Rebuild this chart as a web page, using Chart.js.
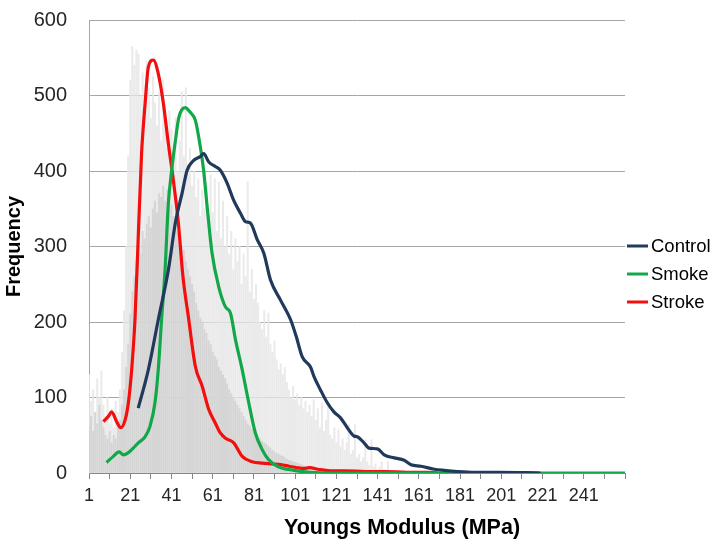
<!DOCTYPE html>
<html>
<head>
<meta charset="utf-8">
<script src="https://cdn.jsdelivr.net/npm/chart.js@4.4.0/dist/chart.umd.min.js"></script>
<style>
  html, body { margin: 0; padding: 0; background: #fff; }
  #wrap { width: 722px; height: 551px; }
</style>
</head>
<body>
<div id="wrap"><canvas id="chart" width="722" height="551"></canvas></div>
<script>
// tick positions (every 10) and the labelled ones (every 20)
const xTickValues = [1, 11, 21, 31, 41, 51, 61, 71, 81, 91, 101, 111, 121, 131, 141, 151, 161, 171, 181, 191, 201, 211, 221, 231, 241, 251, 261];
const xTickLabels = [1, 21, 41, 61, 81, 101, 121, 141, 161, 181, 201, 221, 241];
const xTitle = "Youngs Modulus (MPa)";
const yTitle = "Frequency";

// fitted curves
const controlX = [24.9, 29.8, 34.6, 39.5, 43, 46.1, 48.6, 51.8, 55, 56.6, 59.1, 62.3, 64.7, 68, 71.2, 74.5, 76.9, 79.3, 82.6, 85.8, 89, 93.9, 98.8, 101.5, 104.4, 108.5, 110.1, 113.3, 116.6, 119.8, 123, 126.3, 129.5, 131.1, 134.4, 136.8, 140.9, 144.2, 149, 153.9, 157.2, 162, 168.5, 173.3, 179.8, 188, 200, 220];
const controlY = [86, 137, 203, 269, 333, 370, 401, 414, 419, 423, 412, 406, 401, 384, 361, 344, 333, 331, 309, 291, 256, 229, 203, 181, 154, 140, 128, 110, 93, 81, 73, 60, 49, 48, 40, 33, 32, 24, 20, 17, 11, 9, 5, 3.5, 2, 1, 1, 0];

const smokeX = [9.5, 12.8, 15.6, 17.7, 20.1, 22.5, 24.9, 28.2, 30.6, 33, 34.6, 36.2, 37.9, 39.5, 41.1, 42.9, 44.5, 46, 47.7, 50, 52.6, 55, 56.6, 58.3, 60.7, 63.9, 67.2, 69.6, 72.1, 75.3, 78.5, 81.7, 85, 88, 92.3, 100.3, 108, 120, 261];
const smokeY = [14, 22, 28, 24, 27, 33, 40, 48, 62, 93, 137, 203, 269, 357, 401, 440, 470, 481, 484, 478, 467, 432, 401, 353, 291, 247, 220, 212, 176, 137, 93, 53, 31, 18, 9, 3.5, 1, 0, 0];

const strokeX = [8, 10.4, 12, 14.4, 16.4, 18.5, 20.1, 21.7, 23.3, 24.9, 26.5, 28.2, 29.8, 32.2, 34.6, 37.1, 39.5, 41.9, 44.4, 46.5, 49.3, 52.6, 55.9, 59.1, 62.3, 64.7, 67.2, 71.2, 75.3, 80.1, 85, 90, 94, 98, 102, 105, 108, 112, 118, 125, 135, 145, 155, 165, 170];
const strokeY = [68, 75, 81, 68, 60, 70, 93, 137, 203, 313, 423, 489, 538, 547, 529, 489, 436, 388, 330, 262, 205, 141, 115, 84, 66, 53, 46, 40, 22, 15, 13, 12, 11, 9, 7, 6, 7, 5, 3, 3, 2, 2, 1, 1, 0];

// grey histogram behind the curves, one value per bin starting at 1
const histLight = [
  130, 95, 110, 80, 125, 100, 135, 90,
  75, 100, 65, 85, 60, 95, 80, 110,
  160, 215, 300, 420, 520, 565, 540, 560,
  555, 500, 530, 480, 545, 510, 470, 525,
  490, 460, 505, 440, 520, 470, 430, 480,
  455, 420, 470, 400, 440, 505, 420, 510,
  395, 430, 380, 400, 365, 390, 340, 375,
  350, 380, 330, 395, 345, 390, 320, 385,
  310, 360, 300, 340, 290, 320, 270, 310,
  280, 300, 250, 290, 260, 386, 240, 270,
  230, 250, 225, 200, 190, 215, 180, 212,
  170, 160, 175, 150, 137, 145, 130, 140,
  120, 110, 100, 115, 97, 105, 90, 100,
  85, 95, 80, 90, 75, 97, 70, 85,
  60, 93, 55, 70, 93, 50, 45, 60,
  40, 57, 35, 45, 30, 40, 64, 25,
  30, 64, 20, 25, 15, 20, 44, 15,
  10, 44, 8, 12, 5, 8, 15, 5, 3, 15
];
const histDark = [
  60, 75, 55, 80, 65, 90, 70, 60,
  50, 45, 55, 40, 50, 45, 60, 70,
  90, 110, 140, 170, 210, 240, 260, 280,
  300, 290, 320, 310, 330, 340, 325, 350,
  360, 345, 370, 365, 380, 360, 375, 350,
  355, 340, 330, 320, 310, 300, 295, 280,
  270, 260, 250, 240, 225, 215, 205, 200,
  190, 185, 175, 170, 160, 155, 150, 140,
  135, 130, 125, 118, 110, 105, 100, 95,
  90, 85, 80, 75, 70, 65, 62, 58,
  55, 50, 48, 45, 42, 40, 38, 35,
  33, 30, 28, 26, 25, 23, 22, 20,
  18, 17, 16, 15, 14, 13, 12, 11,
  10, 9, 9, 8, 8, 7, 7, 6,
  6, 5, 5, 5, 4, 4, 4, 3
];

const fontFamily = '"Liberation Sans", Arial, sans-serif';

const toPoints = (xs, ys) => xs.map((x, i) => ({ x: x, y: ys[i] }));
const toBins = vals => vals.map((v, i) => ({ x: i + 1, y: v }));

const lineStyle = color => ({
  type: "line",
  borderColor: color,
  backgroundColor: color,
  borderWidth: 3.2,
  pointRadius: 0,
  cubicInterpolationMode: "monotone",
  fill: false
});

// x axis title sits a bit right of centre in the original
const xTitlePlugin = {
  id: "xTitle",
  afterDraw(chart) {
    const ctx = chart.ctx;
    ctx.save();
    ctx.font = "bold 21.5px " + fontFamily;
    ctx.fillStyle = "#000";
    ctx.textAlign = "center";
    ctx.textBaseline = "middle";
    ctx.fillText(xTitle, 402, 528);
    ctx.restore();
  }
};

// excel style legend: short line + name, to the right of the plot
const sideLegend = {
  id: "sideLegend",
  afterDraw(chart) {
    const ctx = chart.ctx;
    const left = chart.chartArea.right + 2;
    ctx.save();
    ctx.font = "18.5px " + fontFamily;
    ctx.textBaseline = "middle";
    ctx.fillStyle = "#000";
    chart.data.datasets.filter(ds => ds.type === "line").forEach((ds, i) => {
      const y = 246 + i * 28;
      ctx.strokeStyle = ds.borderColor;
      ctx.lineWidth = 3;
      ctx.beginPath();
      ctx.moveTo(left, y);
      ctx.lineTo(left + 21, y);
      ctx.stroke();
      ctx.fillText(ds.label, left + 24, y + 1);
    });
    ctx.restore();
  }
};

new Chart(document.getElementById("chart"), {
  data: {
    datasets: [
      { ...lineStyle("#213a5c"), label: "Control", data: toPoints(controlX, controlY), order: 0 },
      { ...lineStyle("#12a84a"), label: "Smoke", data: toPoints(smokeX, smokeY), order: 1 },
      { ...lineStyle("#f40f0f"), label: "Stroke", data: toPoints(strokeX, strokeY), order: 2 },
      {
        type: "bar", label: "hist-dark", data: toBins(histDark),
        backgroundColor: "rgba(210,210,210,0.85)", barThickness: 1.4, grouped: false, order: 5
      },
      {
        type: "bar", label: "hist-light", data: toBins(histLight),
        backgroundColor: "rgba(230,230,230,0.85)", barThickness: 1.4, grouped: false, order: 6
      }
    ]
  },
  options: {
    responsive: false,
    animation: false,
    layout: { padding: { top: 6, right: 97, left: 0, bottom: 0 } },
    plugins: {
      tooltip: { enabled: false },
      legend: { display: false }
    },
    scales: {
      x: {
        type: "linear",
        min: 1,
        max: 261,
        offset: false,
        afterBuildTicks: axis => { axis.ticks = xTickValues.map(v => ({ value: v })); },
        afterFit: axis => { axis.height = 78; },
        ticks: {
          autoSkip: false,
          maxRotation: 0,
          padding: 6,
          color: "#262626",
          font: { family: fontFamily, size: 18 },
          callback: v => (xTickLabels.includes(v) ? String(v) : "")
        },
        grid: { drawOnChartArea: false, offset: false, tickLength: 6, color: "#868686" },
        border: { color: "#868686" }
      },
      y: {
        min: 0,
        max: 600,
        afterFit: axis => { axis.width = 89; },
        ticks: {
          stepSize: 100,
          padding: 8,
          color: "#262626",
          font: { family: fontFamily, size: 20 }
        },
        // invisible tick marks keep the labels clear of the axis
        grid: { color: "#a6a6a6", drawTicks: true, tickLength: 14, tickColor: "rgba(0,0,0,0)" },
        border: { color: "#a6a6a6" },
        title: {
          display: true,
          text: yTitle,
          color: "#000",
          padding: 2,
          font: { family: fontFamily, size: 20, weight: "bold" }
        }
      }
    }
  },
  plugins: [xTitlePlugin, sideLegend]
});
</script>
</body>
</html>
